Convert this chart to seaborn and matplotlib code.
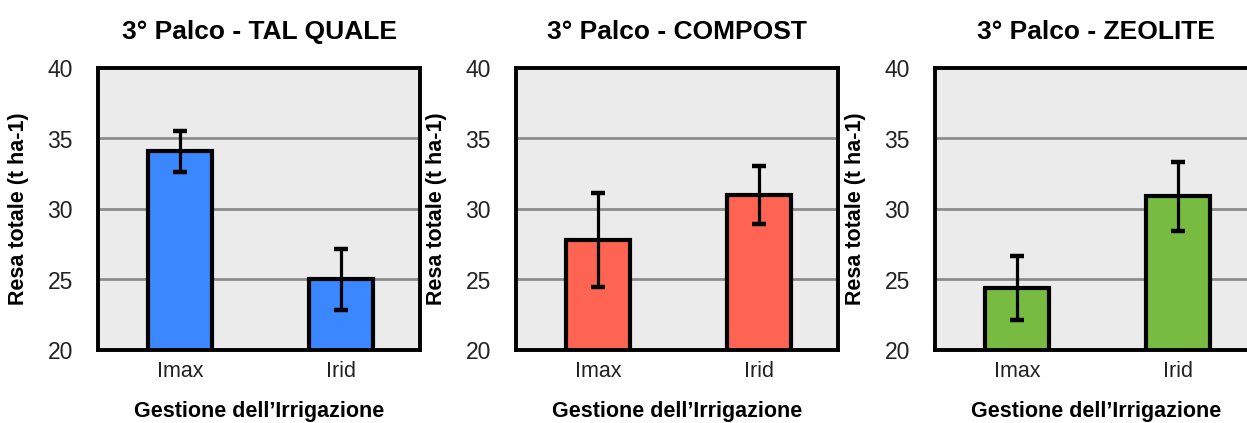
import matplotlib
matplotlib.use("Agg")
import matplotlib.pyplot as plt
import seaborn as sns
import pandas as pd
import numpy as np

sns.set_theme(style="white")
plt.rcParams['font.family'] = ['Liberation Sans', 'DejaVu Sans']

categories = ["Imax", "Irid"]
titles = ["3° Palco - TAL QUALE", "3° Palco - COMPOST", "3° Palco - ZEOLITE"]
tal_quale = [34.1, 25.0]
tal_quale_err = [1.45, 2.15]
compost = [27.8, 31.0]
compost_err = [3.3, 2.05]
zeolite = [24.4, 30.9]
zeolite_err = [2.25, 2.45]
colors = ["#3A87FF", "#FF6352", "#78BB41"]
yticks = [20, 25, 30, 35, 40]

series = [tal_quale, compost, zeolite]
errors = [tal_quale_err, compost_err, zeolite_err]

W, H = 1247, 423
fig = plt.figure(figsize=(W / 100, H / 100), dpi=100)

lefts = [98, 516, 935]
ax_w, top, bottom = 322, 68, 350

for i in range(3):
    ax = fig.add_axes([lefts[i] / W, 1 - bottom / H, ax_w / W, (bottom - top) / H])
    df = pd.DataFrame({"cat": categories, "val": series[i]})
    ax.set_facecolor("#EBEBEB")
    for y in [25, 30, 35]:
        ax.axhline(y, color="#8C8C8C", lw=2, zorder=0.5)
    sns.barplot(data=df, x="cat", y="val", ax=ax, color=colors[i], width=0.4,
                edgecolor="black", linewidth=3, saturation=1, errorbar=None, zorder=2)
    ax.errorbar(np.arange(len(categories)), series[i], yerr=errors[i], fmt="none",
                ecolor="black", elinewidth=2.3, capsize=5, capthick=3.2, zorder=3)
    ax.set_ylim(20, 40)
    ax.set_xlim(-0.51, 1.49)
    ax.set_yticks(yticks)
    ax.tick_params(axis="y", length=0, pad=18, labelsize=16.5, labelcolor="#222222")
    ax.tick_params(axis="x", length=0, pad=8, labelsize=15.5, labelcolor="#222222")
    for s in ax.spines.values():
        s.set_color("black")
        s.set_linewidth(2.8)
        s.set_visible(True)
    ax.set_title(titles[i], fontsize=19, fontweight="bold", pad=21, color="black")
    ax.set_ylabel("Resa totale (t ha-1)", fontsize=15.5, fontweight="bold", color="black")
    ax.yaxis.set_label_coords(-0.215, 0.5)
    ax.set_xlabel("Gestione dell\u2019Irrigazione", fontsize=15.5, fontweight="bold", color="black")
    ax.xaxis.set_label_coords(0.5, -0.18)

fig.savefig("out.png", dpi=100)
